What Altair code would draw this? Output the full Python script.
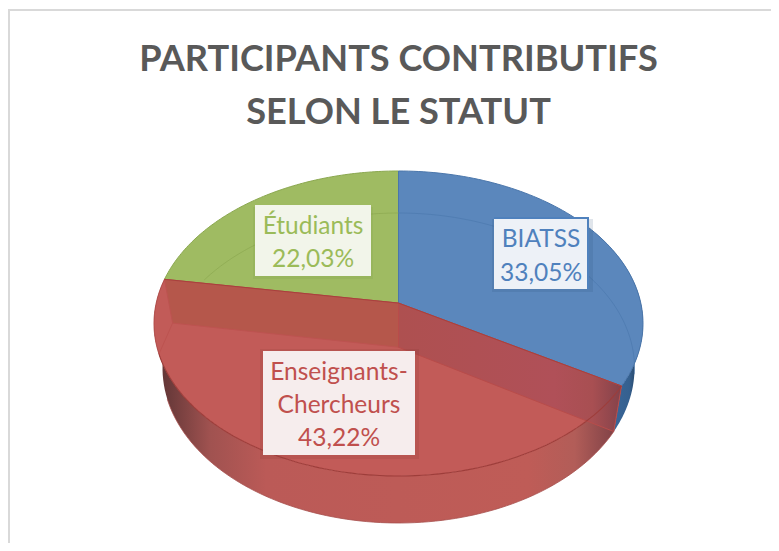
import altair as alt
import numpy as np
import pandas as pd

# ---- data ----
statuts = ["BIATSS", "Enseignants-Chercheurs", "Étudiants"]
parts = [33.05, 43.22, 22.03]
libelles_pct = ["33,05%", "43,22%", "22,03%"]
titre = ["PARTICIPANTS CONTRIBUTIFS", "SELON LE STATUT"]

# ---- view of the tilted disc ----
W, H = 763, 535
FONT = "Lato"
TOP = (398.5, 323.5, 244.5, 152.5)
BOT = (398.5, 368.0, 236.0, 155.0)
PERSP = 0.134
CORNER = 251.0             # where the lower rim emerges from under the upper one

total = sum(parts)
a1 = parts[0] / total * 360
a2 = (parts[0] + parts[1]) / total * 360


def proj(a, disc=TOP, r=1.0):
    t = np.radians(a)
    u, v = r * np.sin(t), r * np.cos(t)
    den = 1 + PERSP * v
    vv = (v + PERSP) / den
    uu = u * np.sqrt(1 - PERSP ** 2) / den
    return disc[0] + disc[2] * uu, disc[1] - disc[3] * vv


def arc(a, b, disc=TOP, n=90):
    return [proj(t, disc) for t in np.linspace(a, b, n)]


X = alt.X("x:Q", scale=alt.Scale(domain=[8, 8 + W]), axis=None)
Y = alt.Y("y:Q", scale=alt.Scale(domain=[8 + H, 8]), axis=None)


def shape(pts, fill=None, stroke=None, sw=1.0, closed=True, opacity=1.0):
    pts = list(pts)
    if closed:
        pts = pts + [pts[0]]
    df = pd.DataFrame({"x": [p[0] for p in pts], "y": [p[1] for p in pts], "i": range(len(pts))})
    kw = {"strokeWidth": sw if stroke else 0, "opacity": opacity, "clip": True}
    kw["stroke"] = stroke if stroke else "transparent"
    if fill is not None:
        kw["fill"] = fill
    return alt.Chart(df).mark_line(**kw).encode(x=X, y=Y, order="i:Q")


def grad(stops):
    return alt.LinearGradient(
        gradient="linear", x1=0, x2=1, y1=0, y2=0,
        stops=[alt.GradientStop(offset=o, color=c) for o, c in stops],
    )


def box(x0, x1, y0, y1, fill, opacity=1.0):
    df = pd.DataFrame({"x": [x0], "x2": [x1], "y": [y0], "y2": [y1]})
    return alt.Chart(df).mark_rect(fill=fill, opacity=opacity).encode(x=X, x2="x2:Q", y=Y, y2="y2:Q")


def label(lines, cx, ys, color, size, weight="normal"):
    df = pd.DataFrame({"x": [cx] * len(lines), "y": ys, "t": lines})
    return alt.Chart(df).mark_text(
        font=FONT, fontSize=size, fontWeight=weight, color=color, align="center", baseline="middle"
    ).encode(x=X, y=Y, text="t:N")


centre_t = proj(0, TOP, 0)
centre_b = proj(0, BOT, 0)

layers = []

# frame
layers.append(box(8, 10, 9, 8 + H, "#d9d9d9"))
layers.append(box(8, 8 + W, 9, 11, "#d9d9d9"))

# blue outer wall
layers.append(shape(arc(60, a1) + arc(a1, 60, BOT),
                    fill=grad([(0, "#3f6fa8"), (0.75, "#35608f"), (0.9, "#23415f"), (1, "#1f3a58")])))
# green and blue top faces
layers.append(shape([centre_t] + arc(a2, 360), fill="#9fbb62", stroke="#8ba850", sw=1))
layers.append(shape([centre_t] + arc(0, a1), fill="#5b87bc", stroke="#4a76ab", sw=1))
# see-through back rim
layers.append(shape(arc(0, 100, BOT), stroke="#4a76ab", sw=1, closed=False, opacity=0.6))
layers.append(shape(arc(298, 360, BOT), stroke="#8ba850", sw=1, closed=False, opacity=0.7))

# red front wall
layers.append(shape(arc(a1, a2) + arc(a2, a1, BOT), fill=grad([
    (0, "#5c3434"), (0.03, "#6a3a3a"), (0.12, "#a05250"), (0.24, "#bb5a57"), (0.8, "#bf5c57"),
    (0.9, "#b25d58"), (0.96, "#8f4a4c"), (1, "#7a3d44")])))
# red top face
layers.append(shape([centre_t] + arc(a1, a2), fill="#c25b58"))
# inner cut faces seen through the red slice
layers.append(shape([centre_t, proj(a2), proj(a2, BOT), centre_b], fill="#b5574b", stroke="#bd5350", sw=1))
layers.append(shape([centre_t, proj(a1), proj(a1, BOT), centre_b],
                    fill=grad([(0, "#ae5050"), (0.7, "#b05058"), (0.87, "#a84f52"), (1, "#84424a")]),
                    stroke="#b84c4a", sw=1))
# left corner edge
layers.append(shape([proj(a2, BOT), proj(CORNER)], stroke="#bd5350", sw=1, closed=False))
# rims
layers.append(shape(arc(a1, CORNER), stroke="#9e3d3a", sw=1.1, closed=False))
layers.append(shape(arc(CORNER, a2), stroke="#b34c49", sw=1, closed=False))
layers.append(shape([proj(a2), centre_t, proj(a1)], stroke="#a8403d", sw=1, closed=False))
layers.append(shape(arc(a1, CORNER, BOT), stroke="#a8504d", sw=1, closed=False, opacity=0.8))

# data labels
layers.append(box(253, 373, 207, 279, "#6f8a3a", opacity=0.12))
layers.append(box(255, 371, 205, 276, "#f2f5ea"))
layers.append(box(492, 593, 219, 292, "#24476f", opacity=0.14))
layers.append(box(494, 589, 217, 289, "#edf1f7"))
layers.append(box(494, 589, 217, 219, "#4f81bd"))
layers.append(box(587, 589, 217, 289, "#4f81bd"))
layers.append(box(260, 419, 349, 459, "#7f2f2d", opacity=0.14))
layers.append(box(263, 415, 351, 455, "#f6eded"))

s = statuts[1].split("-")
layers.append(label(["Étudiants", libelles_pct[2]], 313, [227, 260], "#9bbb59", 24.5))
layers.append(label([statuts[0], libelles_pct[0]], 541, [240, 274], "#4f81bd", 24.5))
layers.append(label([s[0] + "-", s[1], libelles_pct[1]], 339, [373, 406, 439], "#c0504d", 24.5))
layers.append(label(titre, 398.5, [60, 113], "#595959", 36.2, "bold"))

chart = alt.layer(*layers).properties(
    width=W, height=H, padding=0, autosize=alt.AutoSizeParams(type="none"), background="white"
).configure_view(stroke=None)

chart.save("out.html", embed_options={"renderer": "svg", "actions": False})
